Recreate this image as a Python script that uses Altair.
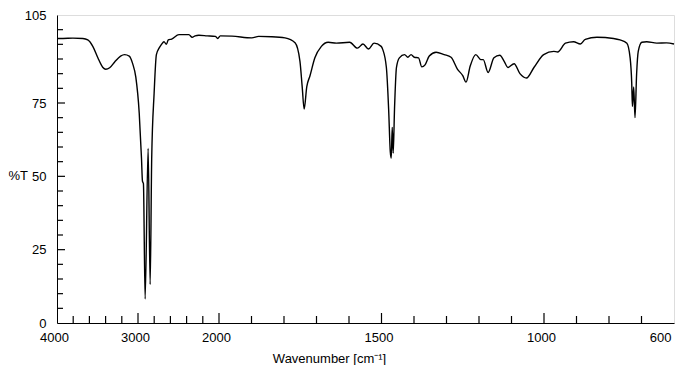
import altair as alt
import pandas as pd

# IR spectrum (wavenumber cm-1, %T)
wavenumber = [4000, 3926, 3804, 3681, 3620, 3558, 3497, 3436, 3399, 3350, 3288, 3215, 3166, 3108,
              3067, 3027, 2985, 2957, 2945, 2933, 2912, 2875, 2850, 2831, 2801, 2773, 2740, 2710,
              2679, 2650, 2626, 2585, 2494, 2372, 2331, 2294, 2249, 2147, 2045, 2016, 1996,
              1960, 1899, 1878, 1838, 1797, 1766, 1751, 1744, 1738, 1730, 1720, 1705, 1685, 1664,
              1639, 1598, 1574, 1557, 1540, 1523, 1501, 1496, 1485, 1478, 1473, 1470, 1467, 1464,
              1460, 1454, 1445, 1429, 1419, 1409, 1399, 1386, 1376, 1366, 1353, 1332, 1307, 1286,
              1266, 1250, 1240, 1227, 1210, 1194, 1187, 1172, 1154, 1136, 1123, 1111, 1092, 1074,
              1054, 1031, 1001, 970, 958, 934, 909, 888, 873, 837, 786, 766, 745, 735, 730, 728,
              724, 720, 715, 710, 699, 684, 653, 623, 600]
transmittance = [97.0, 97.0, 97.1, 97.0, 96.5, 94.3, 90.5, 87.2, 86.5, 87.0, 89.0, 91.0, 91.5, 91.0,
                 88.5, 83.8, 71.6, 56.2, 48.4, 47.5, 8.2, 59.5, 13.1, 56.0, 78.3, 91.5, 93.7, 95.0,
                 95.9, 95.0, 96.5, 96.8, 98.3, 98.3, 97.4, 97.9, 98.1, 97.9, 97.7, 97.0, 97.9,
                 97.8, 97.2, 97.7, 97.6, 97.2, 95.5, 89.3, 80.5, 72.9, 80.5, 84.3, 90.4, 94.3, 95.7,
                 95.4, 95.7, 93.7, 95.1, 93.4, 95.4, 94.3, 93.2, 87.1, 72.8, 58.4, 56.2, 66.7, 57.9,
                 72.8, 87.1, 90.4, 91.5, 90.6, 91.5, 90.6, 90.4, 87.3, 88.0, 91.0, 92.3, 91.5, 90.6,
                 86.5, 84.3, 82.1, 87.6, 91.5, 89.8, 89.8, 85.4, 90.4, 91.3, 89.3, 87.1, 88.4, 85.0,
                 83.5, 87.1, 91.5, 92.6, 92.4, 95.4, 95.9, 95.1, 96.7, 97.4, 97.0, 96.5, 95.4, 90.4,
                 81.6, 73.8, 80.5, 70.0, 85.0, 92.6, 95.7, 95.9, 95.4, 95.5, 95.1]

x_label_values = [4000, 3000, 2000, 1500, 1000, 600]
x_major_ticks = [3000, 2000, 1500, 1000]
x_minor_ticks = [3800, 3600, 3400, 3200, 2800, 2600, 2400, 2200,
                 1900, 1800, 1700, 1600, 1400, 1300, 1200, 1100, 900, 800, 700]
y_label_values = [0, 25, 50, 75, 105]
y_major_ticks = [25, 50, 75]
y_minor_ticks = [5, 10, 15, 20, 30, 35, 40, 45, 55, 60, 65, 70, 80, 85, 90, 95, 100]

FONT = "Liberation Sans"
W, H = 617, 308
LEFT = 49

spec = pd.DataFrame({"wn": wavenumber, "T": transmittance})
xmaj = pd.DataFrame({"wn": x_major_ticks})
xmin = pd.DataFrame({"wn": x_minor_ticks})
ymaj = pd.DataFrame({"T": y_major_ticks})
ymin = pd.DataFrame({"T": y_minor_ticks})

xscale = alt.Scale(domain=[4000, 2000, 600], range=[0, 162, W])
yscale = alt.Scale(domain=[0, 105])

xaxis = alt.Axis(
    values=x_label_values, format="d", ticks=False, grid=False, labelPadding=8,
    labelFontSize=13, labelFont=FONT, labelColor="black", labelOffset=-3,
    labelFlush=False, labelOverlap=False,
    labelAlign={"condition": {"test": "datum.value == 600", "value": "right"}, "value": "center"},
    title="Wavenumber [cm⁻¹]", titleFont=FONT, titleFontSize=13, titleFontWeight="normal",
    titleColor="black", titleX=272, titleY=39, titleBaseline="alphabetic", titleAlign="center",
    domainColor="black", domainWidth=1,
)
yaxis = alt.Axis(
    values=y_label_values, format="d", ticks=False, grid=False, labelPadding=11,
    labelFontSize=13, labelFont=FONT, labelColor="black", labelFlush=False, labelOverlap=False,
    title="%T", titleFont=FONT, titleFontSize=13, titleFontWeight="normal", titleColor="black",
    titleAngle=0, titleX=-LEFT, titleY=160, titleAlign="left", titleBaseline="middle",
    domainColor="black", domainWidth=1,
)

line = alt.Chart(spec).mark_line(color="black", strokeWidth=1.4, interpolate="monotone").encode(
    x=alt.X("wn:Q", scale=xscale, axis=xaxis),
    y=alt.Y("T:Q", scale=yscale, axis=yaxis),
)

xt_major = alt.Chart(xmaj).mark_rule(color="black", strokeWidth=1.2).encode(
    x=alt.X("wn:Q", scale=xscale), y=alt.value(H), y2=alt.value(H - 10))
xt_minor = alt.Chart(xmin).mark_rule(color="black", strokeWidth=1.2).encode(
    x=alt.X("wn:Q", scale=xscale), y=alt.value(H), y2=alt.value(H - 7))
yt_major = alt.Chart(ymaj).mark_rule(color="black", strokeWidth=1.2).encode(
    y=alt.Y("T:Q", scale=yscale), x=alt.value(0), x2=alt.value(8))
yt_minor = alt.Chart(ymin).mark_rule(color="black", strokeWidth=1.2).encode(
    y=alt.Y("T:Q", scale=yscale), x=alt.value(0), x2=alt.value(6))

chart = alt.layer(line, xt_major, xt_minor, yt_major, yt_minor).properties(
    width=W, height=H,
    autosize=alt.AutoSizeParams(type="none"),
    padding={"left": LEFT, "top": 7, "right": 1, "bottom": 42},
).configure_view(stroke="black", strokeWidth=1).configure(background="white")

chart.save("out.html", embed_options={"renderer": "svg", "actions": False})
